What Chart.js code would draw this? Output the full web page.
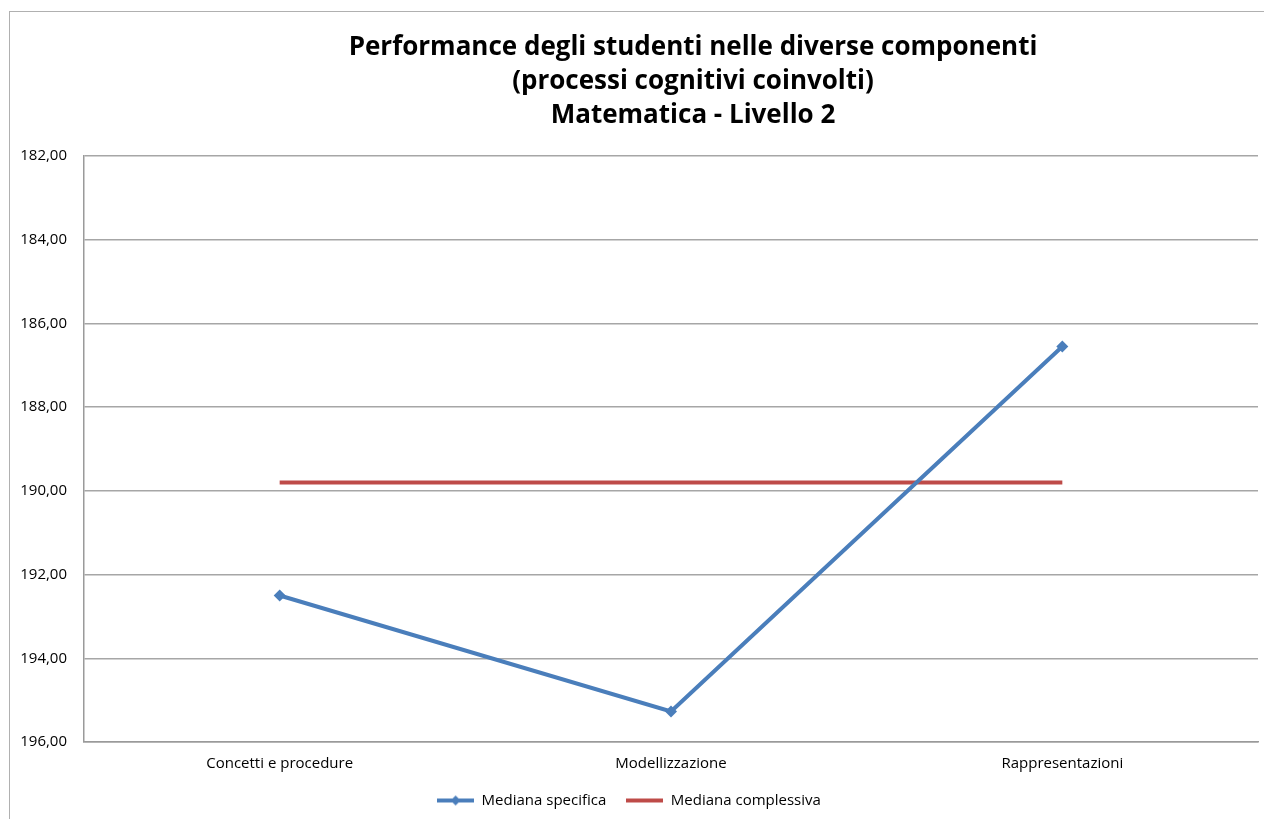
<!DOCTYPE html>
<html>
<head>
<meta charset="utf-8">
<script src="https://cdn.jsdelivr.net/npm/chart.js@4.4.1/dist/chart.umd.min.js"></script>
<style>
html, body { margin: 0; padding: 0; background: #fff; overflow: hidden; }
#cornice { position: absolute; left: 9px; top: 11px; width: 1300px; height: 900px; border: 1px solid #b0b0b0; }
#box { position: absolute; left: 0; top: 0; width: 1264px; height: 819px; }
</style>
</head>
<body>
<div id="cornice"></div>
<div id="box"><canvas id="graf_mediane"></canvas></div>
<script>
const titolo = ['Performance degli studenti nelle diverse componenti', '(processi cognitivi coinvolti)', 'Matematica - Livello 2'];
const componenti = ['Concetti e procedure', 'Modellizzazione', 'Rappresentazioni'];
const mediana_specifica = [192.50, 195.27, 186.55];
const mediana_complessiva = [189.80, 189.80, 189.80];
const blu = '#4a7ebb';
const rosso = '#be4b48';

// icone della legenda: linea con rombo / linea semplice
function iconaLegenda(colore, rombo) {
    const c = document.createElement('canvas');
    c.width = 37; c.height = 12;
    const g = c.getContext('2d');
    g.strokeStyle = colore;
    g.lineWidth = 4;
    g.beginPath(); g.moveTo(0, 6); g.lineTo(37, 6); g.stroke();
    if (rombo) {
        g.fillStyle = colore;
        g.beginPath(); g.moveTo(18.5, 1); g.lineTo(23.5, 6); g.lineTo(18.5, 11); g.lineTo(13.5, 6); g.closePath(); g.fill();
    }
    return c;
}
const icone = [iconaLegenda(blu, true), iconaLegenda(rosso, false)];

// titolo disegnato a mano (centrato come in Excel)
const titoloPlugin = {
    id: 'titoloExcel',
    afterDraw(chart) {
        const ctx = chart.ctx;
        ctx.save();
        ctx.font = 'bold 26px "Open Sans"';
        ctx.fillStyle = '#000';
        ctx.textAlign = 'center';
        ctx.textBaseline = 'alphabetic';
        titolo.forEach((riga, i) => ctx.fillText(riga, 693, 55 + i * 34));
        ctx.restore();
    }
};

const mediane = document.getElementById("graf_mediane").getContext("2d");
const graf_mediane = new Chart(mediane, {
type: 'line',
data: {
labels: componenti,
datasets: [{
    label: 'Mediana specifica',
    data: mediana_specifica,
    borderColor: blu,
    backgroundColor: blu,
    borderWidth: 4,
    pointStyle: 'rectRot',
    pointRadius: 6,
    pointHoverRadius: 6,
    pointBorderWidth: 0,
    tension: 0
}, {
    label: 'Mediana complessiva',
    data: mediana_complessiva,
    borderColor: rosso,
    backgroundColor: rosso,
    borderWidth: 4,
    pointRadius: 0,
    pointHoverRadius: 0,
    tension: 0
}]
},
options: {
responsive: true,
maintainAspectRatio: false,
animation: false,
layout: {
    padding: { top: 156, right: 6, left: 0, bottom: 1 }
},
plugins: {
    title: { display: false },
    tooltip: { enabled: false },
    legend: {
        position: 'bottom',
        labels: {
            usePointStyle: true,
            pointStyleWidth: 37,
            padding: 20,
            color: '#000',
            font: { family: 'Open Sans', size: 15 },
            generateLabels(chart) {
                return chart.data.datasets.map((ds, i) => ({
                    text: ds.label,
                    pointStyle: icone[i],
                    fillStyle: ds.borderColor,
                    strokeStyle: ds.borderColor,
                    lineWidth: 0,
                    datasetIndex: i
                }));
            }
        }
    }
},
scales: {
    x: {
        offset: true,
        grid: { display: false, drawTicks: false },
        border: { display: true, color: '#9a9a9a', width: 1.5 },
        ticks: { padding: 13, color: '#000', font: { family: 'Open Sans', size: 15 } },
        afterFit(scale) { scale.height = 31; }
    },
    y: {
        reverse: true,
        min: 182,
        max: 196,
        grid: { color: '#a6a6a6', lineWidth: 1.5, drawTicks: false },
        border: { display: true, color: '#9a9a9a', width: 1.5 },
        ticks: {
            stepSize: 2,
            padding: 17,
            color: '#000',
            font: { family: 'Open Sans', size: 15 },
            callback: (v) => v.toFixed(2).replace('.', ',')
        },
        afterFit(scale) { scale.width = 84; }
    }
}
},
plugins: [titoloPlugin]
}
);
</script>
</body>
</html>
